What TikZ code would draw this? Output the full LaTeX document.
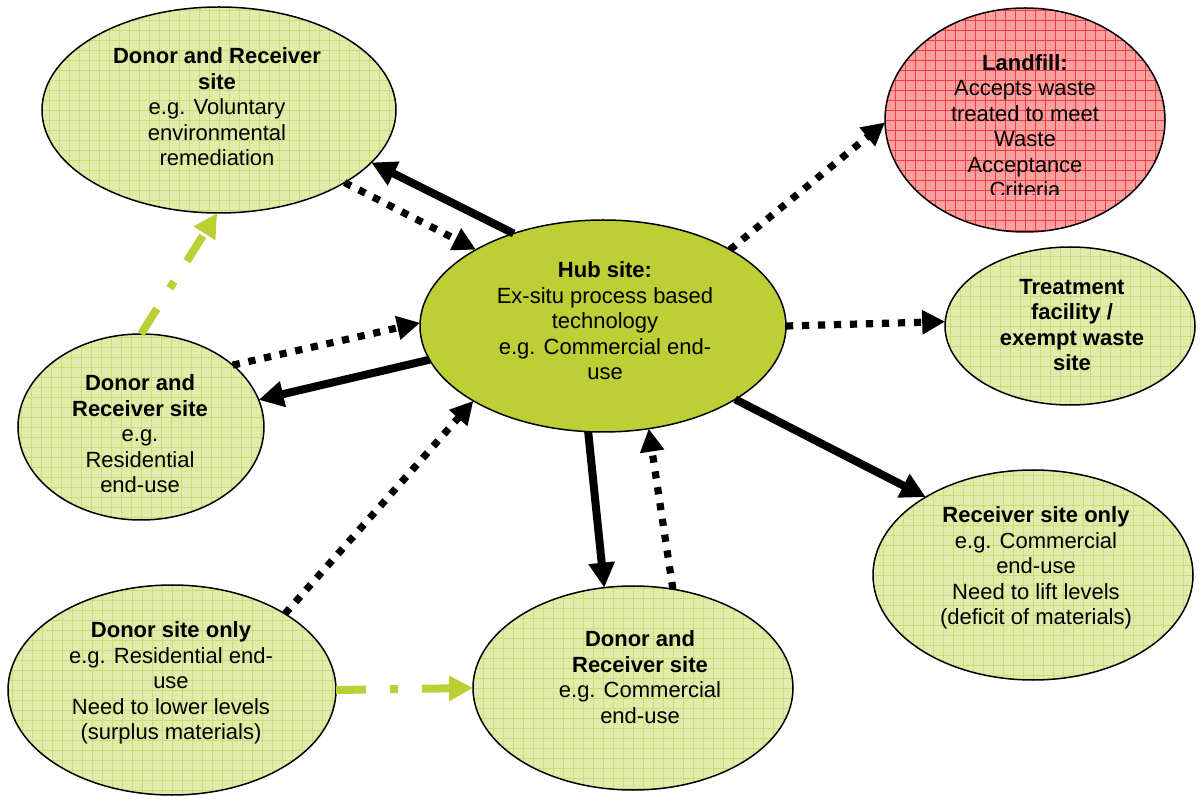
\documentclass[tikz,border=0pt]{standalone}
\usepackage{fontspec}
\setmainfont{Liberation Sans}
\usetikzlibrary{shapes.geometric,arrows.meta}
\definecolor{lightfill}{RGB}{224,235,172}
\definecolor{gridgreen}{RGB}{204,221,118}
\definecolor{hubgreen}{RGB}{188,207,52}
\definecolor{redfill}{RGB}{250,160,160}
\definecolor{gridred}{RGB}{250,60,60}
\tikzset{
  site/.style={ellipse, draw=black, line width=0.75pt, inner sep=0pt, outer sep=0pt, fill=lightfill,
    path picture={\draw[gridgreen, line width=0.45pt] ([shift={(-5pt,-5pt)}]path picture bounding box.south west) grid[step=5pt] ([shift={(5pt,5pt)}]path picture bounding box.north east);}},
  hubsite/.style={ellipse, draw=black, line width=0.75pt, inner sep=0pt, outer sep=0pt, fill=hubgreen},
  fillsite/.style={ellipse, draw=black, line width=0.75pt, inner sep=0pt, outer sep=0pt, fill=redfill,
    path picture={\draw[gridred, line width=0.45pt] ([shift={(-5pt,-5pt)}]path picture bounding box.south west) grid[step=5pt] ([shift={(5pt,5pt)}]path picture bounding box.north east);}},
  txt/.style={font=\fontsize{11}{12.75}\selectfont, align=center, inner sep=0pt},
  solidarrow/.style={line width=4pt, -{Triangle[length=12.5pt,width=12.5pt]}},
  dotarrow/.style={line width=3.6pt, dash pattern=on 3.6pt off 4.4pt, -{Triangle[length=11.5pt,width=11.5pt]}},
  greenarrow/.style={hubgreen, line width=4pt, dash pattern=on 15pt off 12pt on 4pt off 12pt, -{Triangle[length=12pt,width=12pt]}},
}
\begin{document}
\begin{tikzpicture}[x=0.5pt,y=-0.5pt]
\useasboundingbox (0,0) rectangle (1200,796);
% ellipses
\node[site, minimum width=177pt, minimum height=103pt] (tl) at (219,110) {};
\node[fillsite, minimum width=140pt, minimum height=112pt] (lf) at (1025,120) {};
\node[hubsite, minimum width=183pt, minimum height=106pt] (hub) at (603,326) {};
\node[site, minimum width=125pt, minimum height=79pt] (tr) at (1070,326) {};
\node[site, minimum width=123pt, minimum height=93pt] (res) at (141,427) {};
\node[site, minimum width=160pt, minimum height=105pt] (rcv) at (1033,575) {};
\node[site, minimum width=164pt, minimum height=105pt] (don) at (172,690) {};
\node[site, minimum width=160pt, minimum height=102pt] (com) at (633,688) {};
% texts
\node[txt] (tlt) at (217,107) {\textbf{Donor and Receiver}\\\textbf{site}\\e.g. Voluntary\\environmental\\remediation};
\begin{scope}
\clip (885,0) rectangle (1165,195);
\node[txt] (lft) at (1025,126) {\textbf{Landfill:}\\Accepts waste\\treated to meet\\Waste\\Acceptance\\Criteria};
\end{scope}
\node[txt] (hubt) at (605,321) {\textbf{Hub site:}\\Ex-situ process based\\technology\\e.g. Commercial end-\\use};
\node[txt] (trt) at (1072,325) {\textbf{Treatment}\\\textbf{facility /}\\\textbf{exempt waste}\\\textbf{site}};
\node[txt] (rest) at (140,434) {\textbf{Donor and}\\\textbf{Receiver site}\\e.g.\\Residential\\end-use};
\node[txt] (rcvt) at (1036,568) {\textbf{Receiver site only}\\e.g. Commercial\\end-use\\Need to lift levels\\(deficit of materials)};
\node[txt] (dont) at (171,683) {\textbf{Donor site only}\\e.g. Residential end-\\use\\Need to lower levels\\(surplus materials)};
\node[txt] (comt) at (640,677) {\textbf{Donor and}\\\textbf{Receiver site}\\e.g. Commercial\\end-use};
% connectors
\draw[solidarrow] (hub.134.1) -- (tl.-19.7);
\draw[dotarrow] (tl.-30.5) -- (hub.149);
\draw[greenarrow] (res.90.6) -- (tl.-91.1);
\draw[dotarrow] (res.34.9) -- (hub.179.1);
\draw[solidarrow] (hub.-169.7) -- (res.13.3);
\draw[dotarrow] (don.34.6) -- (hub.-150.4);
\draw[solidarrow] (hub.-98.6) -- (com.106.8);
\draw[dotarrow] (com.68.9) -- (hub.-66.6);
\draw[greenarrow] (don.0.7) -- (com.180);
\draw[dotarrow] (hub.31.5) -- (lf.-179.2);
\draw[dotarrow] (hub.0.9) -- (tr.178.6);
\draw[solidarrow] (hub.-29.2) -- (rcv.144.7);
\end{tikzpicture}
\end{document}
